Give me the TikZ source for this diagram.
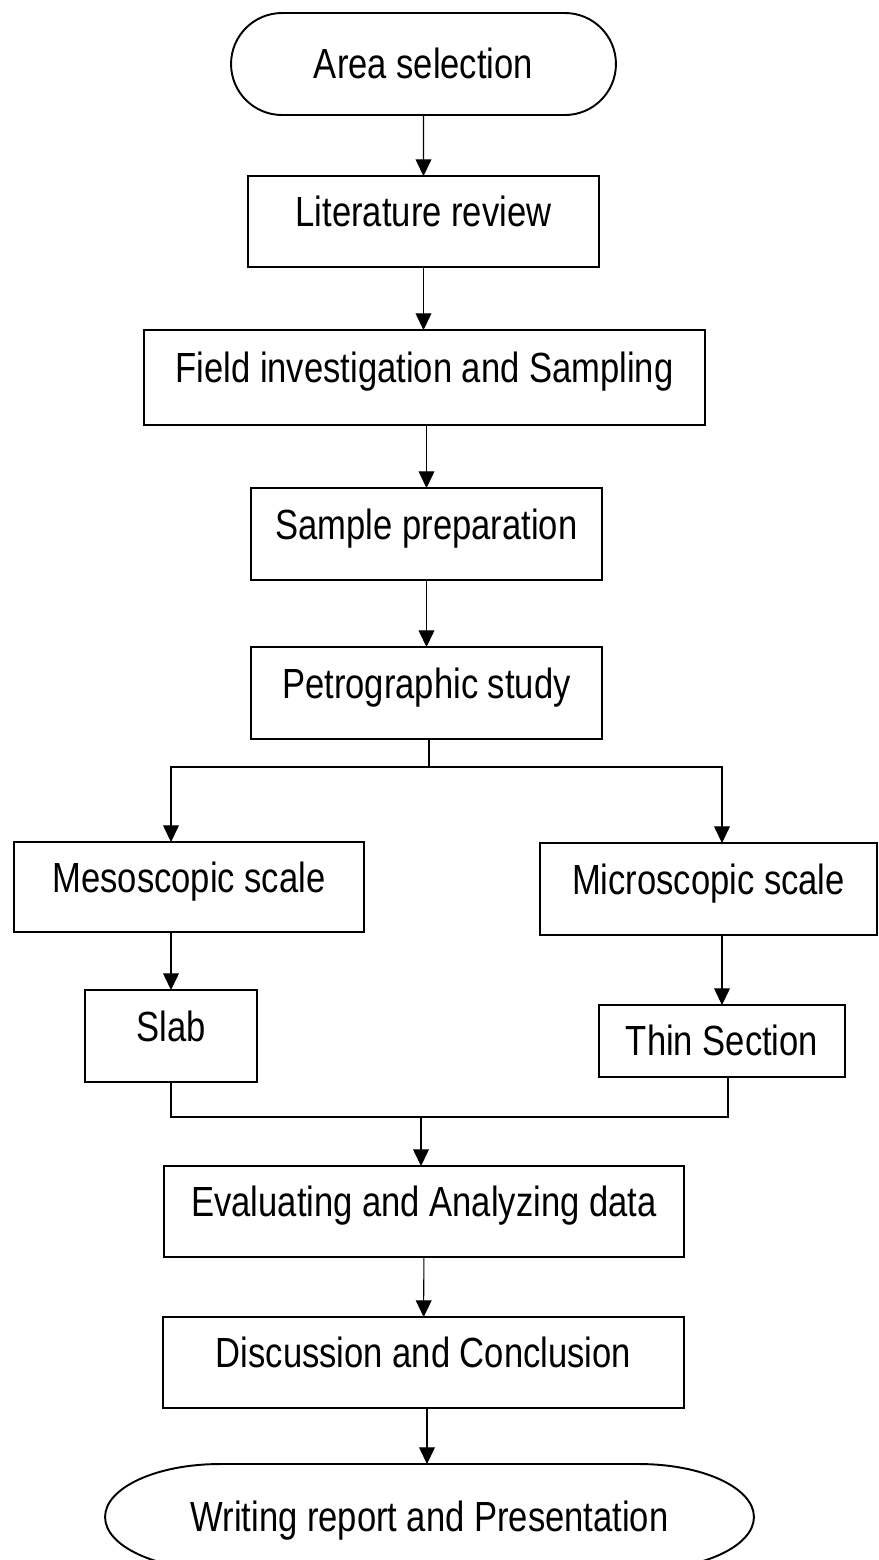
\documentclass[tikz,border=0pt]{standalone}
\usepackage{fontspec}
\setmainfont{Liberation Sans}[FakeStretch=0.82]
\usetikzlibrary{arrows.meta,shapes.misc}

\begin{document}
\begin{tikzpicture}[x=0.02cm, y=-0.02cm,
        stepbox/.style={draw, line width=1.3pt, inner sep=0pt, outer sep=0pt,
            font=\fontsize{24}{28}\selectfont, text height=18pt, text depth=12pt},
        endbox/.style={inner sep=0pt, outer sep=0pt,
            font=\fontsize{24}{28}\selectfont, text height=18pt, text depth=1pt},
        arr/.style={-{Triangle[length=9.5pt, width=9pt]}, line width=0.6pt},
        link/.style={line width=0.6pt}]

        \useasboundingbox (0,0) rectangle (879,1560);

        % === Start ===
        \node[endbox, draw, line width=1.1pt, rounded rectangle, minimum width=7.7cm, minimum height=2.04cm] (area) at (423.5, 64) {Area selection};

        % === Main column ===
        \node[stepbox, minimum width=7.02cm, minimum height=1.82cm] (lit) at (423.5, 221.5) {Literature review};
        \node[stepbox, minimum width=11.22cm, minimum height=1.9cm] (field) at (424.5, 377.5) {Field investigation and Sampling};
        \node[stepbox, minimum width=7.02cm, minimum height=1.84cm] (prep) at (426.5, 534) {Sample preparation};
        \node[stepbox, minimum width=7.02cm, minimum height=1.84cm] (petro) at (426.5, 693) {Petrographic study};

        \draw[arr] (area) -- (lit);
        \draw[arr] (lit) -- (lit |- field.north);
        \draw[arr] (field.south -| prep) -- (prep);
        \draw[arr] (prep) -- (petro);

        % === Two scales ===
        \node[stepbox, minimum width=7.0cm, minimum height=1.8cm] (meso) at (189, 887) {Mesoscopic scale};
        \node[stepbox, minimum width=6.74cm, minimum height=1.84cm] (micro) at (708.5, 889) {Microscopic scale};
        \node[stepbox, minimum width=3.44cm, minimum height=1.84cm] (slab) at (171, 1036) {Slab};
        \node[stepbox, text depth=1pt, minimum width=4.92cm, minimum height=1.44cm] (thin) at (722, 1041) {Thin Section};

        \coordinate (split) at (429, 767);
        \draw[link] (petro.south -| split) -- (split);
        \draw[arr] (split) -| (slab.north |- meso.north);
        \draw[arr] (split) -| (thin.north |- micro.north);
        \draw[arr] (slab |- meso.south) -- (slab);
        \draw[arr] (thin |- micro.south) -- (thin);

        % === Merge and end ===
        \node[stepbox, minimum width=10.4cm, minimum height=1.82cm] (eval) at (424, 1211.5) {Evaluating and Analyzing data};
        \node[stepbox, minimum width=10.42cm, minimum height=1.82cm] (disc) at (423.5, 1362.5) {Discussion and Conclusion};
        \node[endbox, minimum width=12.98cm, minimum height=2.12cm] (report) at (429.5, 1517) {Writing report and Presentation};
        \draw[line width=1.1pt] ([xshift=2.3cm]report.north west) -- ([xshift=-2.3cm]report.north east)
            arc[start angle=90, end angle=-90, x radius=2.3cm, y radius=1.06cm]
            -- ([xshift=2.3cm]report.south west)
            arc[start angle=270, end angle=90, x radius=2.3cm, y radius=1.06cm] -- cycle;

        \coordinate (merge) at (421, 1117);
        \draw[link] (slab) |- (merge);
        \draw[link] (thin.south -| 728, 0) |- (merge);
        \draw[arr] (merge) -- (merge |- eval.north);
        \draw[arr] (eval) -- (disc);
        \draw[arr] (disc.south -| 427, 0) -- (427, 1464);

    \end{tikzpicture}
\end{document}
